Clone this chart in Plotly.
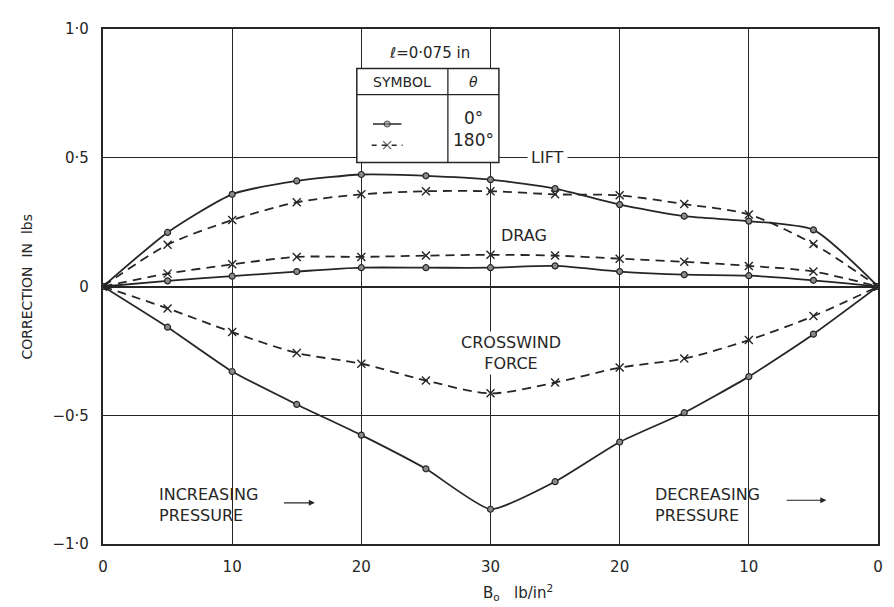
import plotly.graph_objects as go

# ---- data ----
x_pos = [0, 5, 10, 15, 20, 25, 30, 35, 40, 45, 50, 55, 60]
x_tick_vals = [0, 10, 20, 30, 40, 50, 60]
x_tick_text = ["0", "10", "20", "30", "20", "10", "0"]
y_tick_vals = [-1.0, -0.5, 0, 0.5, 1.0]
y_tick_text = ["−1·0", "−0·5", "0", "0·5", "1·0"]

lift_0 = [0, 0.21, 0.358, 0.41, 0.435, 0.43, 0.415, 0.38, 0.318, 0.273, 0.254, 0.22, 0]
lift_180 = [0, 0.162, 0.258, 0.327, 0.358, 0.37, 0.37, 0.358, 0.354, 0.32, 0.28, 0.165, 0]
drag_0 = [0, 0.022, 0.04, 0.058, 0.073, 0.073, 0.073, 0.08, 0.058, 0.046, 0.042, 0.024, 0]
drag_180 = [0, 0.05, 0.086, 0.115, 0.115, 0.12, 0.123, 0.12, 0.108, 0.096, 0.08, 0.058, 0]
cross_0 = [0, -0.158, -0.33, -0.458, -0.577, -0.708, -0.865, -0.758, -0.604, -0.49, -0.35, -0.185, 0]
cross_180 = [0, -0.085, -0.177, -0.258, -0.30, -0.365, -0.415, -0.373, -0.315, -0.28, -0.208, -0.115, 0]

INK = "#262626"
FONT = "DejaVu Sans"

fig = go.Figure()

solid_marker = dict(symbol="circle", size=6, color="#8a8a8a", line=dict(color=INK, width=1.2))
x_marker = dict(symbol="x-thin", size=8, line=dict(color=INK, width=1.4), color=INK)

for ys, sm in ((lift_0, 0.6), (drag_0, 0.8), (cross_0, 0.5)):
    fig.add_trace(go.Scatter(x=x_pos, y=ys, mode="lines+markers",
                             line=dict(color=INK, width=1.8, shape="spline", smoothing=sm),
                             marker=solid_marker, showlegend=False, hoverinfo="skip"))
for ys in (lift_180, drag_180, cross_180):
    fig.add_trace(go.Scatter(x=x_pos, y=ys, mode="lines+markers",
                             line=dict(color=INK, width=1.8, dash="9px,6px", shape="spline", smoothing=0.8),
                             marker=x_marker, showlegend=False, hoverinfo="skip"))

# ---- legend table (decoration) ----
tbl_left, tbl_right, tbl_div = 19.65, 30.65, 26.7
tbl_top, tbl_head, tbl_bottom = 0.847, 0.745, 0.482
shapes = [
    dict(type="rect", xref="x", yref="y", x0=tbl_left, x1=tbl_right, y0=tbl_bottom, y1=tbl_top,
         line=dict(color=INK, width=1.5), fillcolor="white", layer="between"),
    dict(type="line", xref="x", yref="y", x0=tbl_left, x1=tbl_right, y0=tbl_head, y1=tbl_head,
         line=dict(color=INK, width=1.3), layer="between"),
    dict(type="line", xref="x", yref="y", x0=tbl_div, x1=tbl_div, y0=tbl_bottom, y1=tbl_top,
         line=dict(color=INK, width=1.3), layer="between"),
]
# legend sample symbols
fig.add_trace(go.Scatter(x=[20.9, 22.0, 23.1], y=[0.631, 0.631, 0.631], mode="lines+markers",
                         line=dict(color=INK, width=1.5),
                         marker=dict(symbol="circle", size=[0, 6, 0], color="#8a8a8a",
                                     line=dict(color=INK, width=1.2)),
                         showlegend=False, hoverinfo="skip"))
fig.add_trace(go.Scatter(x=[20.8, 22.0, 23.2], y=[0.549, 0.549, 0.549], mode="lines+markers",
                         line=dict(color=INK, width=1.5, dash="5px,5px"),
                         marker=dict(symbol="x-thin", size=[0, 8, 0], line=dict(color=INK, width=1.4)),
                         showlegend=False, hoverinfo="skip"))

tf = dict(family=FONT, size=16, color=INK)
annotations = [
    dict(x=25.3, y=0.906, xref="x", yref="y", text="ℓ=0·075 in", showarrow=False,
         font=dict(family=FONT, size=15, color=INK)),
    dict(x=(tbl_left + tbl_div) / 2, y=0.796, xref="x", yref="y", text="SYMBOL", showarrow=False,
         font=dict(family=FONT, size=14, color=INK)),
    dict(x=(tbl_div + tbl_right) / 2, y=0.796, xref="x", yref="y", text="<i>θ</i>", showarrow=False,
         font=dict(family=FONT, size=14, color=INK)),
    dict(x=(tbl_div + tbl_right) / 2, y=0.655, xref="x", yref="y", text="0°", showarrow=False,
         font=dict(family=FONT, size=17, color=INK)),
    dict(x=(tbl_div + tbl_right) / 2, y=0.57, xref="x", yref="y", text="180°", showarrow=False,
         font=dict(family=FONT, size=17, color=INK)),
    dict(x=34.4, y=0.5, xref="x", yref="y", text="LIFT", showarrow=False, font=tf,
         bgcolor="white", borderpad=3),
    dict(x=32.6, y=0.2, xref="x", yref="y", text="DRAG", showarrow=False, font=tf),
    dict(x=31.6, y=-0.26, xref="x", yref="y", text="CROSSWIND<br>FORCE", showarrow=False, font=tf,
         bgcolor="white", align="center"),
    dict(x=4.2, y=-0.85, xref="x", yref="y", text="INCREASING<br>PRESSURE", showarrow=False, font=tf,
         xanchor="left", align="left"),
    dict(x=16.4, y=-0.84, ax=13.9, ay=-0.84, xref="x", yref="y", axref="x", ayref="y", text="",
         showarrow=True, arrowhead=2, arrowsize=1, arrowwidth=1.2, arrowcolor=INK),
    dict(x=42.6, y=-0.85, xref="x", yref="y", text="DECREASING<br>PRESSURE", showarrow=False, font=tf,
         xanchor="left", align="left"),
    dict(x=56.0, y=-0.83, ax=52.8, ay=-0.83, xref="x", yref="y", axref="x", ayref="y", text="",
         showarrow=True, arrowhead=2, arrowsize=1, arrowwidth=1.2, arrowcolor=INK),
    dict(x=-0.111, y=0.5, xref="paper", yref="paper", text="CORRECTION  IN  lbs", showarrow=False,
         textangle=-90, font=dict(family=FONT, size=14, color=INK)),
    dict(x=0.535, y=-0.094, xref="paper", yref="paper", text="B<sub>o</sub>   lb/in<sup>2</sup>",
         showarrow=False, font=dict(family=FONT, size=15, color=INK), yanchor="middle"),
]

# page body has an 8px margin; plot area placed at x 103..878, y 24..544 of the window
fig.update_layout(
    width=894, height=607,
    margin=dict(l=95, r=24, t=16, b=71),
    paper_bgcolor="white", plot_bgcolor="white",
    shapes=shapes, annotations=annotations,
    font=dict(family=FONT, color=INK),
)
fig.update_xaxes(range=[0, 60], tickvals=x_tick_vals, ticktext=x_tick_text,
                 showgrid=True, gridcolor=INK, gridwidth=1, zeroline=False,
                 showline=True, linecolor=INK, linewidth=2.2, mirror=True,
                 ticks="", ticklabelstandoff=8, tickfont=dict(family=FONT, size=15, color=INK))
fig.update_yaxes(range=[-1, 1], tickvals=y_tick_vals, ticktext=y_tick_text,
                 showgrid=True, gridcolor=INK, gridwidth=1, zeroline=True, zerolinecolor=INK,
                 zerolinewidth=1.5,
                 showline=True, linecolor=INK, linewidth=2.2, mirror=True,
                 ticks="", ticklabelstandoff=9, tickfont=dict(family=FONT, size=15, color=INK))

fig.write_html("out.html")
